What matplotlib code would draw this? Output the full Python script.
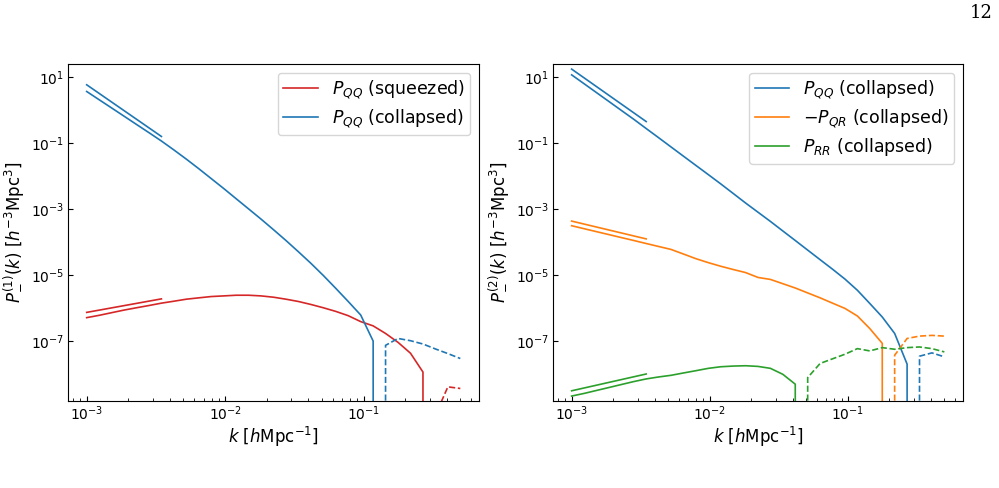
import numpy as np
import matplotlib
matplotlib.use("Agg")
import matplotlib.pyplot as plt
from matplotlib.font_manager import FontProperties
from matplotlib.ticker import NullLocator

# wavenumber grid [h/Mpc]
k = [1.000e-3, 1.230e-3, 1.513e-3, 1.862e-3, 2.290e-3, 2.818e-3, 3.466e-3,
     4.264e-3, 5.246e-3, 6.453e-3, 7.938e-3, 9.763e-3, 1.201e-2, 1.478e-2,
     1.818e-2, 2.236e-2, 2.751e-2, 3.383e-2, 4.162e-2, 5.120e-2, 6.298e-2,
     7.748e-2, 9.534e-2, 1.173e-1, 1.442e-1, 1.775e-1, 2.183e-1, 2.686e-1,
     3.304e-1, 4.064e-1, 5.000e-1]

# Panel 1 (signed values)
P1_QQ_squeezed = [5.01e-7, 5.89e-7, 7.08e-7, 8.51e-7, 1.00e-6, 1.17e-6, 1.38e-6,
                  1.58e-6, 1.82e-6, 2.00e-6, 2.19e-6, 2.29e-6, 2.40e-6, 2.40e-6,
                  2.29e-6, 2.09e-6, 1.82e-6, 1.55e-6, 1.26e-6, 1.00e-6, 7.76e-7,
                  5.75e-7, 3.80e-7, 2.82e-7, 1.66e-7, 8.91e-8, 4.17e-8, 1.12e-8,
                  -5.50e-10, -3.98e-9, -3.55e-9]
P1_QQ_collapsed = [3.66e0, 2.06e0, 1.16e0, 6.52e-1, 3.66e-1, 2.06e-1, 1.15e-1,
                   6.17e-2, 3.24e-2, 1.66e-2, 8.32e-3, 4.17e-3, 2.04e-3, 1.00e-3,
                   4.90e-4, 2.34e-4, 1.10e-4, 5.01e-5, 2.24e-5, 9.55e-6, 3.89e-6,
                   1.55e-6, 6.03e-7, 9.77e-8, -7.24e-8, -1.17e-7, -1.00e-7,
                   -7.94e-8, -5.62e-8, -4.07e-8, -2.88e-8]

# Panel 2 (signed values)
P2_QQ_collapsed = [1.17e1, 6.31e0, 3.39e0, 1.82e0, 9.77e-1, 5.25e-1, 2.75e-1,
                   1.45e-1, 7.59e-2, 3.98e-2, 2.09e-2, 1.10e-2, 5.75e-3, 2.95e-3,
                   1.51e-3, 7.94e-4, 4.17e-4, 2.14e-4, 1.10e-4, 5.62e-5, 2.88e-5,
                   1.48e-5, 7.41e-6, 3.39e-6, 1.35e-6, 5.25e-7, 1.66e-7, 1.95e-8,
                   -3.39e-8, -4.27e-8, -3.24e-8]
P2_mQR_collapsed = [3.09e-4, 2.51e-4, 2.04e-4, 1.66e-4, 1.35e-4, 1.10e-4, 8.91e-5,
                    7.24e-5, 5.89e-5, 4.27e-5, 3.09e-5, 2.34e-5, 1.82e-5, 1.45e-5,
                    1.17e-5, 8.32e-6, 7.24e-6, 5.37e-6, 3.98e-6, 2.82e-6, 2.00e-6,
                    1.38e-6, 9.55e-7, 5.62e-7, 2.34e-7, 8.32e-8, -3.63e-8, -1.17e-7,
                    -1.38e-7, -1.45e-7, -1.38e-7]
P2_RR_collapsed = [2.09e-9, 2.51e-9, 3.09e-9, 3.80e-9, 4.68e-9, 5.75e-9, 6.92e-9,
                   7.94e-9, 8.91e-9, 1.05e-8, 1.23e-8, 1.45e-8, 1.62e-8, 1.70e-8,
                   1.74e-8, 1.66e-8, 1.45e-8, 9.55e-9, 4.79e-9, -7.59e-9, -2.04e-8,
                   -2.82e-8, -3.89e-8, -5.75e-8, -4.90e-8, -6.17e-8, -5.50e-8,
                   -6.17e-8, -6.46e-8, -5.75e-8, -4.57e-8]

# low-k reference power laws (endpoints at k[0] and k[6])
k_ref = [k[0], k[6]]
ref1_squeezed = [7.24e-7, 1.86e-6]
ref1_collapsed = [5.85e0, 1.58e-1]
ref2_QQ = [1.75e1, 4.48e-1]
ref2_mQR = [4.27e-4, 1.23e-4]
ref2_RR = [3.02e-9, 9.77e-9]

labels1 = [r'$P_{QQ}$ (squeezed)', r'$P_{QQ}$ (collapsed)']
labels2 = [r'$P_{QQ}$ (collapsed)', r'$-P_{QR}$ (collapsed)', r'$P_{RR}$ (collapsed)']
ylim = (1.48e-9, 2.5e1)

C_RED, C_BLUE, C_ORANGE, C_GREEN = '#d62728', '#1f77b4', '#ff7f0e', '#2ca02c'
LW = 1.2

fig = plt.figure(figsize=(9.99, 4.88), dpi=100)
ax1 = fig.add_axes([68/999, 1-401/488, 411/999, 337/488])
ax2 = fig.add_axes([553/999, 1-401/488, 410/999, 337/488])


def panel(ax, series, refs, labels, ylabel):
    for (vals, col), lab in zip(series, labels):
        v = np.asarray(vals)
        ax.plot(k, v, color=col, lw=LW, label=lab)
        ax.plot(k, -v, color=col, lw=LW, ls='--')
    for (rv, col) in refs:
        ax.plot(k_ref, rv, color=col, lw=LW)
    ax.set_xscale('log')
    ax.set_yscale('log', nonpositive='clip')
    ax.set_ylim(*ylim)
    ax.yaxis.set_minor_locator(NullLocator())
    ax.tick_params(which='both', direction='in', labelsize=10, pad=2.5)
    ax.set_xlabel(r'$k$ [$h$Mpc$^{-1}$]', fontsize=12, labelpad=1)
    ax.set_ylabel(ylabel, fontsize=12)
    ax.legend(loc='upper right', fontsize=12.5, labelspacing=0.37,
              borderpad=0.32)


panel(ax1, [(P1_QQ_squeezed, C_RED), (P1_QQ_collapsed, C_BLUE)],
      [(ref1_squeezed, C_RED), (ref1_collapsed, C_BLUE)], labels1,
      r'$P^{(1)}_{-}(k)$ [$h^{-3}$Mpc$^{3}$]')
panel(ax2, [(P2_QQ_collapsed, C_BLUE), (P2_mQR_collapsed, C_ORANGE),
            (P2_RR_collapsed, C_GREEN)],
      [(ref2_QQ, C_BLUE), (ref2_mQR, C_ORANGE), (ref2_RR, C_GREEN)], labels2,
      r'$P^{(2)}_{-}(k)$ [$h^{-3}$Mpc$^{3}$]')

fp = FontProperties(family='DejaVu Serif', size=13)
try:
    fp.set_math_fontset('cm')
    page = r'$12$'
except Exception:
    page = '12'
fig.text(993/999, 1-18/488, page, fontproperties=fp, ha='right', va='baseline')

fig.savefig('out.png', dpi=100)
